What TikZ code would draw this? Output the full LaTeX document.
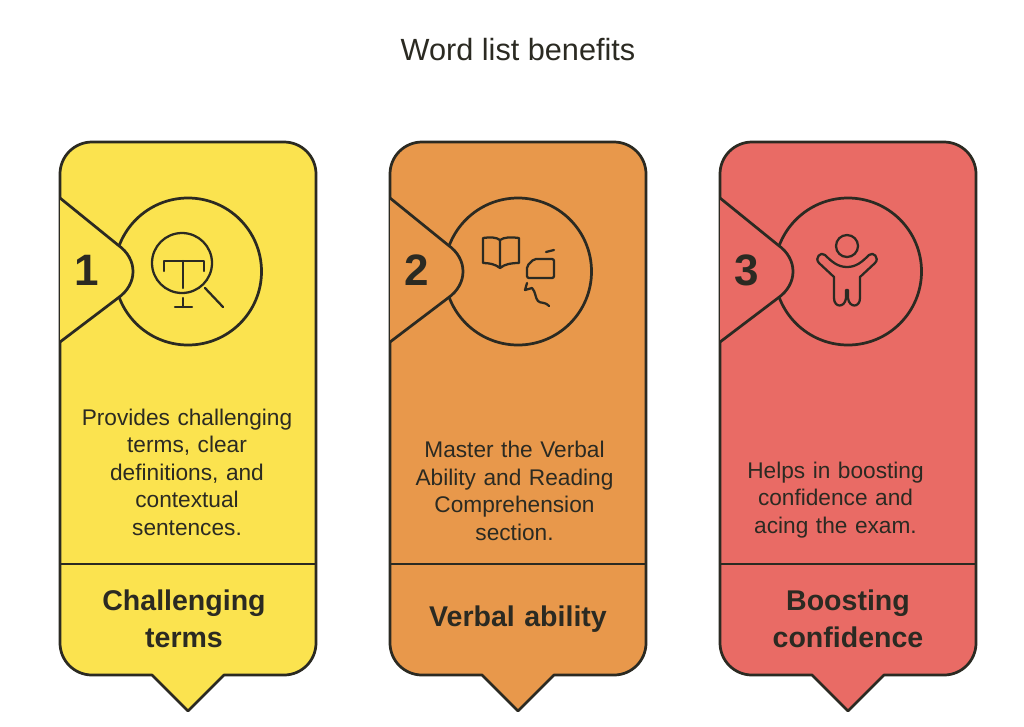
\documentclass[tikz,border=0pt]{standalone}
\usepackage{fontspec}
\setmainfont{Liberation Sans}
\definecolor{ink}{HTML}{2B2A22}
\definecolor{cardyellow}{HTML}{FBE34F}
\definecolor{cardorange}{HTML}{E8984B}
\definecolor{cardred}{HTML}{E96B65}
\tikzset{
  line/.style={draw=ink,line width=2.05pt,line join=round},
  iconline/.style={draw=ink,line width=1.7pt,line cap=round,line join=round},
  titletext/.style={text=ink,font=\fontsize{23}{27}\selectfont,inner sep=0pt},
  bodytext/.style={text=ink,font=\fontsize{17}{20.6}\selectfont,align=center,inner sep=0pt,text width=175pt},
  headtext/.style={text=ink,font=\bfseries\fontsize{21.4}{27.6}\selectfont,align=center,inner sep=0pt,text width=170pt},
  numtext/.style={text=ink,font=\bfseries\fontsize{33}{36}\selectfont,inner sep=0pt},
}
\newcommand{\cardbase}[1]{%
  \path[line,fill=#1] (60,174) arc[start angle=180,end angle=270,radius=32] -- (284,142)
    arc[start angle=270,end angle=360,radius=32] -- (316,643)
    arc[start angle=0,end angle=90,radius=32] -- (224,675) -- (188,711) -- (152,675) -- (92,675)
    arc[start angle=90,end angle=180,radius=32] -- cycle;
  \draw[line] (60,564) -- (316,564);
  \draw[line] (188,271.5) circle[radius=73.5];
  \path[line,fill=#1] (60,198) -- (118,245) .. controls (138,259) and (138,284) .. (118,298) -- (60,342);
}
\begin{document}
\begin{tikzpicture}[x=0.75pt,y=-0.75pt]
\path[use as bounding box,fill=white] (0,0) rectangle (1024,726);
\node[titletext] (title) at (518,50) {Word list benefits};

% card 1
\begin{scope}
  \cardbase{cardyellow}
  \draw[iconline] (182,263) circle[radius=30];
  \draw[iconline] (164,271) -- (164,261) -- (204,261) -- (204,271);
  \draw[iconline] (183,261) -- (183,288);
  \draw[iconline] (183,298) -- (183,307);
  \draw[iconline] (175,307) -- (192,307);
  \draw[iconline] (205,288) -- (223,307);
  \node[numtext] (n1) at (87,270) {1};
  \node[bodytext] (b1) at (187,472) {Provides challenging\\terms, clear\\definitions, and\\contextual\\sentences.};
  \node[headtext] (h1) at (184,619) {Challenging\\terms};
\end{scope}

% card 2
\begin{scope}[shift={(330,0)}]
  \cardbase{cardorange}
  \draw[iconline] (170,268) -- (170,240)
    (153,238) .. controls (160,237) and (166,237) .. (170,240)
      .. controls (174,237) and (181,237) .. (189,238) -- (189,263)
      .. controls (181,263) and (175,264) .. (170,268)
      .. controls (165,264) and (159,263) .. (153,263) -- cycle;
  \draw[iconline,rounded corners=1.5pt] (197,278) -- (197,266) -- (204,259) -- (224,259) -- (224,278) -- cycle;
  \draw[iconline] (216,252) -- (224,250);
  \draw[iconline] (197,283) -- (195,290) -- (202,288) .. controls (206,292) and (205,298) .. (208,301)
    .. controls (211,304) and (214,301) .. (219,306);
  \node[numtext] (n2) at (87,270) {2};
  \node[bodytext] (b2) at (184.5,491) {Master the Verbal\\Ability and Reading\\Comprehension\\section.};
  \node[headtext] (h2) at (188,619) {Verbal ability};
\end{scope}

% card 3
\begin{scope}[shift={(660,0)}]
  \cardbase{cardred}
  \draw[iconline] (187,246) circle[radius=11];
  \draw[iconline] (165,255) .. controls (172,262) and (178,267) .. (187,267)
    .. controls (196,267) and (202,262) .. (209,255)
    .. controls (213,251) and (220,258) .. (215,263)
    -- (200,277) -- (200,298)
    .. controls (200,308) and (189,308) .. (188,298) -- (188,290)
    -- (186,290) -- (186,298)
    .. controls (185,308) and (174,308) .. (174,298)
    -- (174,277) -- (159,263)
    .. controls (154,258) and (161,251) .. (165,255) -- cycle;
  \node[numtext] (n3) at (87,270) {3};
  \node[bodytext] (b3) at (175.5,500) {Helps in boosting\\confidence and\\acing the exam.};
  \node[headtext] (h3) at (188,619) {Boosting\\confidence};
\end{scope}
\end{tikzpicture}
\end{document}
